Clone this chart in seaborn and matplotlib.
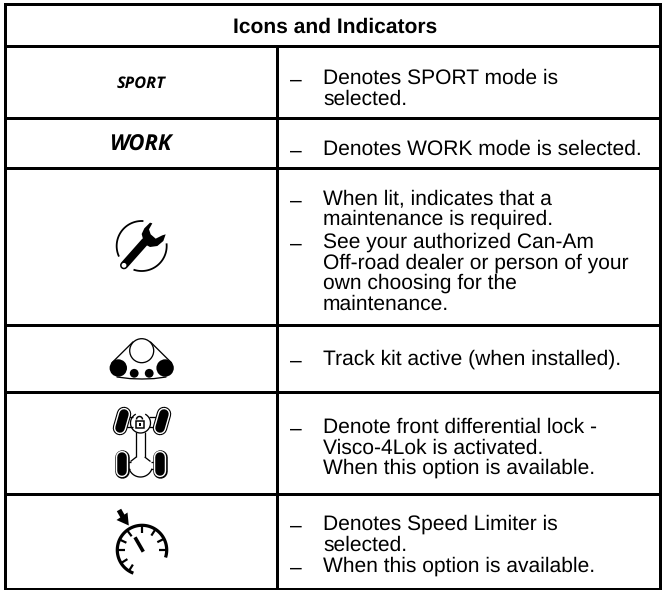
#!/usr/bin/env python3
"""Icons and Indicators table, redrawn on a pixel-sized axes."""

import numpy as np
import pandas as pd
import seaborn as sns
import matplotlib.pyplot as plt
from matplotlib.patches import Circle, Polygon

# ---------------------------------------------------------------------------
# CONTENT
# ---------------------------------------------------------------------------
HEADER = "Icons and Indicators"
MODE_LABELS = ["SPORT", "WORK"]

DESC_LINES = [
    "Denotes SPORT mode is",
    "selected.",
    "Denotes WORK mode is selected.",
    "When lit, indicates that a",
    "maintenance is required.",
    "See your authorized Can-Am",
    "Off-road dealer or person of your",
    "own choosing for the",
    "maintenance.",
    "Track kit active (when installed).",
    "Denote front differential lock -",
    "Visco-4Lok is activated.",
    "When this option is available.",
    "Denotes Speed Limiter is",
    "selected.",
    "When this option is available.",
]
# text baselines
DESC_Y = [83.5, 105, 155, 204.7, 225, 248, 269, 289, 310, 365, 433, 453.5, 473.5, 530, 551, 571.7]
DASH_Y = [83.5, 155, 204.7, 248, 365, 433, 530, 571.7]

# table rules, in picture pixels
ROW_EDGES = [4, 45.5, 118.3, 167.5, 325, 392, 494, 588.5]
LEFT, DIVIDER, RIGHT = 5, 277, 660

PX = 0.72  # linewidth points per pixel at dpi 100
TEXT_X, DASH_X = 323, 290
TEXT_SIZE = 15.1
FONT = "Liberation Sans"

# ---------------------------------------------------------------------------
# HELPERS
# ---------------------------------------------------------------------------


def arc(ax, cx, cy, r, start, end, width, z=3):
    """Arc with angles in degrees, counter-clockwise on the picture."""
    t = np.radians(np.linspace(start, end, 120))
    ax.plot(cx + r * np.cos(t), cy - r * np.sin(t), color="black",
            lw=width * PX, solid_capstyle="butt", zorder=z)


def seg(ax, x0, y0, x1, y1, width, color="black", cap="butt", z=3):
    ax.plot([x0, x1], [y0, y1], color=color, lw=width * PX,
            solid_capstyle=cap, zorder=z)


def draw_rules(ax):
    rows = []
    for i, y in enumerate(ROW_EDGES):
        rows += [{"rule": f"h{i}", "x": LEFT, "y": y}, {"rule": f"h{i}", "x": RIGHT, "y": y}]
    for x, name, top in [(LEFT, "l", ROW_EDGES[0]), (RIGHT, "r", ROW_EDGES[0]), (DIVIDER, "d", ROW_EDGES[1])]:
        rows += [{"rule": name, "x": x, "y": top}, {"rule": name, "x": x, "y": ROW_EDGES[-1]}]
    sns.lineplot(data=pd.DataFrame(rows), x="x", y="y", units="rule", estimator=None,
                 sort=False, color="black", lw=3 * PX, solid_capstyle="projecting",
                 legend=False, ax=ax)


def draw_wrench(ax):
    def z(x, y):
        return 100 + x / 3, 160 + y / 3

    cx, cy = z(125, 258)
    arc(ax, cx, cy, 25, 86, 205, 1.8)
    arc(ax, cx, cy, 25, 251, 366, 1.8)
    seg(ax, *z(72, 316), *z(135, 245), 8, cap="round")
    head = [(125, 222), (133, 205), (150, 188), (157, 190), (147, 208), (152, 223),
            (167, 236), (187, 226), (197, 223), (190, 243), (172, 258), (150, 261), (133, 252)]
    ax.add_patch(Polygon([z(*p) for p in head], closed=True, color="black", lw=0, zorder=3))
    ax.add_patch(Circle(z(72, 316), 2.4, color="white", lw=0, zorder=4))


def draw_track(ax):
    cx = 141.7
    for s in (-1, 1):
        seg(ax, cx + s * 8.5, 341.7, cx + s * 30, 363, 1.3)
    ax.add_patch(Circle((cx, 350.7), 12, fc="white", ec="black", lw=1.3 * PX, zorder=3))
    for s in (-1, 1):
        ax.add_patch(Circle((cx + s * 23.4, 368), 8.7, color="black", lw=0, zorder=3))
        ax.add_patch(Circle((cx + s * 7.5, 373.3), 4.4, color="black", lw=0, zorder=3))
    ax.plot([117, 130, 142, 154, 166], [377, 378.6, 379, 378.6, 377], color="black", lw=1.3 * PX, zorder=3)


def draw_pill(ax, x0, y0, x1, y1):
    seg(ax, x0, y0, x1, y1, 14.5, cap="round", z=3)
    seg(ax, x0, y0, x1, y1, 12.3, color="white", cap="round", z=4)
    seg(ax, x0, y0, x1, y1, 9.5, cap="round", z=5)


def draw_diff(ax):
    cx = 140.5
    for wx in (122, 162):
        draw_pill(ax, wx - 2, 428, wx + 2, 414)
    for wx in (121.7, 160):
        draw_pill(ax, wx, 457, wx, 471)
    for s in (-1, 1):
        seg(ax, cx + s * 8, 417, cx + s * 17, 417, 1.3)
        seg(ax, cx + s * 8, 427, cx + s * 17, 427, 1.3)
        seg(ax, cx + s * 4.2, 431.5, cx + s * 4.2, 457, 1.3)
        seg(ax, cx + s * 4.2, 457, cx + s * 10, 461.5, 1.3)
        seg(ax, cx + s * 10, 461.5, cx + s * 14, 461.5, 1.3)
        seg(ax, cx + s * 10.5, 468.5, cx + s * 14, 468.5, 1.3)
    arc(ax, cx, 423, 10, 118, 422, 1.3)
    arc(ax, cx, 465, 12, 198, 342, 1.3)
    # padlock
    arc(ax, cx - 1, 419.5, 3, 0, 180, 1.5)
    ax.add_patch(Polygon([(cx - 5, 420.5), (cx + 3, 420.5), (cx + 3, 428), (cx - 5, 428)],
                         closed=True, fc="white", ec="black", lw=1.5 * PX, zorder=3))
    seg(ax, cx - 1, 422.5, cx - 1, 426, 2)


def draw_gauge(ax):
    cx, cy, r = 142, 550, 24.7
    arc(ax, cx, cy, r, -17.6, 249.5, 3.2)
    for a in [0, 27, 57, 90, 127, 155, 180, 212, 238]:
        t = np.radians(a)
        seg(ax, cx + r * np.cos(t), cy - r * np.sin(t),
            cx + (r - 7.5) * np.cos(t), cy - (r - 7.5) * np.sin(t), 2.2)
    seg(ax, 135, 537.3, 143.3, 551.7, 3.6)
    seg(ax, 119, 510, 123.5, 518, 5)
    ax.add_patch(Polygon([(116.5, 520), (127.5, 512.5), (128.8, 525.5)], closed=True,
                         color="black", lw=0, zorder=3))


# ---------------------------------------------------------------------------
# MAIN
# ---------------------------------------------------------------------------


def main():
    sns.set_theme(style="white")
    plt.rcParams["font.family"] = [FONT, "DejaVu Sans"]
    plt.rcParams["text.hinting"] = "none"

    fig = plt.figure(figsize=(6.62, 5.9), dpi=100)
    ax = fig.add_axes([0, 0, 1, 1])

    draw_rules(ax)
    draw_wrench(ax)
    draw_track(ax)
    draw_diff(ax)
    draw_gauge(ax)

    ax.text(335, 33, HEADER, ha="center", va="baseline",
            fontsize=TEXT_SIZE, fontweight="bold", color="black")

    ax.text(141.3, 88.3, MODE_LABELS[0], ha="center", va="baseline", family="Open Sans",
            fontsize=11.8, fontweight="bold", style="italic", color="black")
    ax.text(140.5, 151, MODE_LABELS[1], ha="center", va="baseline", family="Open Sans",
            fontsize=15.8, fontweight="bold", style="italic", color="black")

    for line, y in zip(DESC_LINES, DESC_Y):
        ax.text(TEXT_X, y, line, ha="left", va="baseline", fontsize=TEXT_SIZE, color="black")
    for y in DASH_Y:
        ax.text(DASH_X, y + 2, "–", ha="left", va="baseline", fontsize=TEXT_SIZE, color="black")

    ax.set_xlim(0, 662)
    ax.set_ylim(590, 0)
    ax.axis("off")

    fig.savefig("out.png", dpi=100)
    plt.close(fig)


if __name__ == "__main__":
    main()
